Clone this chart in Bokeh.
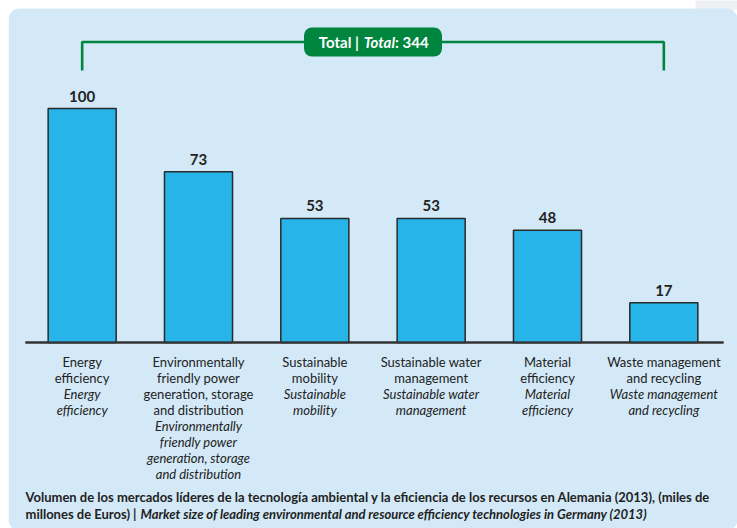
from bokeh.plotting import figure
from bokeh.models import ColumnDataSource, Label, FactorRange, Range1d
from bokeh.core.properties import value
from bokeh.embed import file_html
from bokeh.resources import INLINE

# ---------------- data ----------------
categories = [
    "Energy efficiency",
    "Environmentally friendly power generation, storage and distribution",
    "Sustainable mobility",
    "Sustainable water management",
    "Material efficiency",
    "Waste management and recycling",
]
values = [100, 73, 53, 53, 48, 17]
label_lines = [
    "Energy\nefficiency",
    "Environmentally\nfriendly power\ngeneration, storage\nand distribution",
    "Sustainable\nmobility",
    "Sustainable water\nmanagement",
    "Material\nefficiency",
    "Waste management\nand recycling",
]
total_value = 344
total_label = "Total |"
total_label_it = "Total"
caption_line1 = ("Volumen de los mercados líderes de la tecnología ambiental y la eficiencia "
                 "de los recursos en Alemania (2013), (miles de")
caption_line2a = "millones de Euros) |"
caption_line2b = ("Market size of leading environmental and resource efficiency "
                  "technologies in Germany (2013)")

# ---------------- style / layout ----------------
PANEL = "#d3e9f7"
BAR = "#27b4e9"
GREEN = "#00853f"
DARK = "#222222"
FONT = "Lato"

W, H = 737, 528
BL = 8                     # white left border (page background)
PAD_PX = 15.5              # padding between frame edge and first/last category
N = len(categories)
PPC = (W - BL - 2 * PAD_PX) / N      # pixels per category
PAD = PAD_PX / PPC
CAT_LEFT = BL + PAD_PX
AXIS_PX = 342              # vertical pixel of the zero line
PPU = (AXIS_PX - 108) / 100.0        # pixels per value unit


def X(px):
    return (px - CAT_LEFT) / PPC


def Y(py):
    return (AXIS_PX - py) / PPU


p = figure(
    x_range=FactorRange(*categories, range_padding=PAD, range_padding_units="absolute"),
    y_range=Range1d(Y(H), Y(0)),
    width=W, height=H,
    output_backend="svg", toolbar_location=None,
    min_border_left=BL, min_border_right=0,
    min_border_top=0, min_border_bottom=0,
)
p.background_fill_color = "white"
p.border_fill_color = "white"
p.outline_line_color = None
p.xgrid.visible = False
p.ygrid.visible = False
p.yaxis.visible = False

# page decoration: grey strip top-right and rounded light-blue panel
p.quad(left=[X(695)], right=[X(760)], top=[Y(-5)], bottom=[Y(9)],
       fill_color="#eef0f3", line_color=None)
p.quad(left=[X(8)], right=[X(737)], top=[Y(8)], bottom=[Y(530)],
       fill_color=PANEL, line_color=None, border_radius=11)

# baseline extending a little past the outer bars
p.segment(x0=[X(25)], x1=[X(723)], y0=[0], y1=[0],
          line_color="#333333", line_width=2)

ax = p.xaxis[0]
ax.fixed_location = 0
ax.bounds = (X(25), X(723))
ax.axis_line_color = "#333333"
ax.axis_line_width = 2
ax.major_tick_line_color = None
ax.major_tick_in = 0
ax.major_tick_out = 0
ax.minor_tick_line_color = None
ax.major_label_text_font_size = "0px"
ax.major_label_text_color = None

LINE_PX = 16
FIRST_TOP_PX = 11
LAB_SIZE = "13px"
LAB_LH = 1.02

src = ColumnDataSource(dict(
    cat=categories,
    val=values,
    txt=[str(v) for v in values],
    txt_y=[v + 12.5 / PPU for v in values],
    lines=label_lines,
    lab_y=[-FIRST_TOP_PX / PPU] * N,
    ital_y=[-(FIRST_TOP_PX + LINE_PX * (s.count("\n") + 1)) / PPU for s in label_lines],
))

p.vbar(x="cat", top="val", bottom=0, width=0.585, source=src,
       fill_color=BAR, line_color="#2a2a2a", line_width=1.5)

p.text(x="cat", y="txt_y", text="txt", source=src,
       text_align="center", text_baseline="middle",
       text_font=value(FONT), text_font_style="bold", text_font_size="15px",
       text_color=DARK)

p.text(x="cat", y="lab_y", text="lines", source=src,
       text_align="center", text_baseline="top",
       text_font=value(FONT), text_font_size=LAB_SIZE, text_color=DARK,
       text_line_height=LAB_LH)
p.text(x="cat", y="ital_y", text="lines", source=src,
       text_align="center", text_baseline="top",
       text_font=value(FONT), text_font_style="italic",
       text_font_size=LAB_SIZE, text_color=DARK, text_line_height=LAB_LH)

# bracket + total badge
br_top = Y(41.5)
br_bot = Y(70)
p.line(x=[categories[0], categories[0], categories[-1], categories[-1]],
       y=[br_bot, br_top, br_top, br_bot], line_color=GREEN, line_width=2.6)

mid = N / 2
half_w = 69 / PPC
half_h = 14.5 / PPU
p.quad(left=[mid - half_w], right=[mid + half_w],
       top=[br_top + half_h], bottom=[br_top - half_h],
       fill_color=GREEN, line_color=None, border_radius=8)

p.add_layout(Label(x=mid - 14 / PPC, y=br_top, text=total_label,
                   text_align="right", text_baseline="middle",
                   text_font=FONT, text_font_style="bold",
                   text_font_size="15px", text_color="white"))
p.add_layout(Label(x=mid + 22 / PPC, y=br_top, text=total_label_it,
                   text_align="right", text_baseline="middle",
                   text_font=FONT, text_font_style="bold italic",
                   text_font_size="15px", text_color="white"))
p.add_layout(Label(x=mid + 22 / PPC, y=br_top, text=": " + str(total_value),
                   text_align="left", text_baseline="middle",
                   text_font=FONT, text_font_style="bold",
                   text_font_size="15px", text_color="white"))

# caption
CAP_SIZE = "13px"
p.add_layout(Label(x=X(25), y=Y(496), text=caption_line1,
                   text_align="left", text_baseline="middle",
                   text_font=FONT, text_font_style="bold",
                   text_font_size=CAP_SIZE, text_color=DARK))
p.add_layout(Label(x=X(25), y=Y(513), text=caption_line2a,
                   text_align="left", text_baseline="middle",
                   text_font=FONT, text_font_style="bold",
                   text_font_size=CAP_SIZE, text_color=DARK))
p.add_layout(Label(x=X(140), y=Y(513), text=caption_line2b,
                   text_align="left", text_baseline="middle",
                   text_font=FONT, text_font_style="bold italic",
                   text_font_size=CAP_SIZE, text_color=DARK))

open("out.html", "w").write(file_html(p, INLINE))
